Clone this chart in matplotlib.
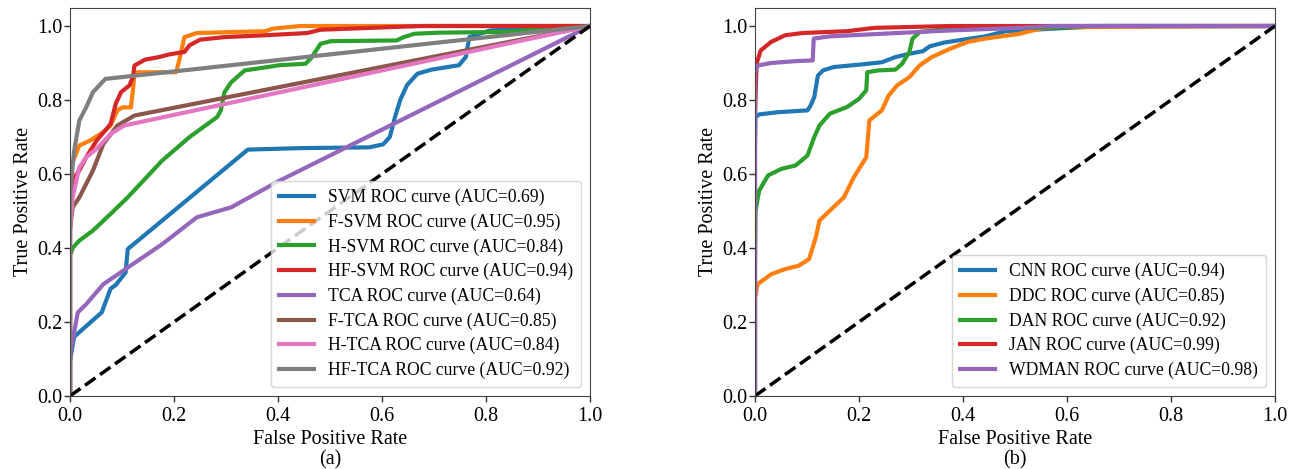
import matplotlib
matplotlib.use("Agg")
import matplotlib.pyplot as plt

plt.rcParams['font.family'] = ['Liberation Serif', 'DejaVu Serif']
plt.rcParams['font.size'] = 13

# ---- Panel (a) data ----
svm_fpr = [0, 0.0, 0.008, 0.061, 0.078, 0.088, 0.107, 0.111, 0.342, 0.446, 0.575, 0.602, 0.615, 0.625, 0.635, 0.648, 0.668, 0.695, 0.748, 0.761, 0.768, 0.808, 1.0]
svm_tpr = [0, 0.095, 0.16, 0.226, 0.29, 0.30, 0.334, 0.397, 0.666, 0.67, 0.672, 0.68, 0.70, 0.754, 0.80, 0.84, 0.871, 0.882, 0.894, 0.916, 0.97, 0.988, 1.0]

fsvm_fpr = [0, 0.0, 0.001, 0.018, 0.038, 0.064, 0.078, 0.091, 0.101, 0.117, 0.121, 0.124, 0.204, 0.21, 0.22, 0.244, 0.376, 0.39, 0.443, 1.0]
fsvm_tpr = [0, 0.45, 0.618, 0.677, 0.69, 0.713, 0.731, 0.772, 0.78, 0.78, 0.826, 0.875, 0.875, 0.907, 0.97, 0.981, 0.986, 0.993, 1.0, 1.0]

hsvm_fpr = [0, 0.0, 0.005, 0.018, 0.044, 0.078, 0.111, 0.177, 0.23, 0.283, 0.29, 0.297, 0.31, 0.336, 0.356, 0.403, 0.453, 0.463, 0.482, 0.502, 0.628, 0.642, 0.662, 0.708, 0.84, 1.0]
hsvm_tpr = [0, 0.38, 0.40, 0.42, 0.447, 0.492, 0.537, 0.636, 0.70, 0.754, 0.772, 0.821, 0.848, 0.88, 0.884, 0.894, 0.898, 0.912, 0.952, 0.959, 0.961, 0.97, 0.979, 0.982, 0.984, 1.0]

hfsvm_fpr = [0, 0.0, 0.008, 0.018, 0.031, 0.051, 0.078, 0.088, 0.098, 0.114, 0.121, 0.124, 0.144, 0.171, 0.19, 0.22, 0.23, 0.25, 0.297, 0.376, 0.456, 0.482, 0.675, 1.0]
hfsvm_tpr = [0, 0.55, 0.59, 0.61, 0.645, 0.69, 0.735, 0.79, 0.821, 0.839, 0.862, 0.893, 0.909, 0.916, 0.923, 0.93, 0.948, 0.963, 0.97, 0.975, 0.981, 0.99, 1.0, 1.0]

tca_fpr = [0, 0.0, 0.001, 0.015, 0.031, 0.064, 0.111, 0.177, 0.244, 0.31, 0.403, 1.0]
tca_tpr = [0, 0.09, 0.12, 0.226, 0.248, 0.302, 0.347, 0.41, 0.483, 0.51, 0.582, 1.0]

ftca_fpr = [0, 0.0, 0.005, 0.018, 0.044, 0.064, 0.091, 0.124, 1.0]
ftca_tpr = [0, 0.45, 0.51, 0.537, 0.609, 0.681, 0.731, 0.758, 1.0]

htca_fpr = [0, 0.0, 0.005, 0.018, 0.031, 0.051, 0.078, 0.104, 1.0]
htca_tpr = [0, 0.45, 0.537, 0.618, 0.645, 0.668, 0.708, 0.731, 1.0]

hftca_fpr = [0, 0.0, 0.001, 0.008, 0.018, 0.031, 0.044, 0.068, 1.0]
hftca_tpr = [0, 0.50, 0.564, 0.663, 0.745, 0.78, 0.821, 0.857, 1.0]

labels_a = ["SVM ROC curve (AUC=0.69)", "F-SVM ROC curve (AUC=0.95)",
            "H-SVM ROC curve (AUC=0.84)", "HF-SVM ROC curve (AUC=0.94)",
            "TCA ROC curve (AUC=0.64)", "F-TCA ROC curve (AUC=0.85)",
            "H-TCA ROC curve (AUC=0.84)", "HF-TCA ROC curve (AUC=0.92)"]

# ---- Panel (b) data ----
cnn_fpr = [0, 0.0, 0.001, 0.008, 0.044, 0.101, 0.107, 0.114, 0.121, 0.131, 0.151, 0.204, 0.244, 0.27, 0.297, 0.323, 0.336, 0.363, 0.39, 0.443, 0.482, 0.575, 0.675, 1.0]
cnn_tpr = [0, 0.672, 0.754, 0.761, 0.767, 0.772, 0.785, 0.808, 0.866, 0.88, 0.889, 0.896, 0.902, 0.916, 0.925, 0.932, 0.945, 0.955, 0.961, 0.972, 0.986, 0.993, 1.0, 1.0]

ddc_fpr = [0, 0.0, 0.005, 0.031, 0.058, 0.084, 0.104, 0.117, 0.124, 0.144, 0.171, 0.19, 0.214, 0.22, 0.244, 0.257, 0.273, 0.297, 0.317, 0.34, 0.376, 0.409, 0.443, 0.509, 0.549, 0.575, 1.0]
ddc_tpr = [0, 0.266, 0.302, 0.329, 0.343, 0.352, 0.37, 0.429, 0.474, 0.501, 0.537, 0.591, 0.645, 0.745, 0.772, 0.812, 0.839, 0.862, 0.894, 0.916, 0.939, 0.957, 0.966, 0.979, 0.993, 0.997, 1.0]

dan_fpr = [0, 0.0, 0.001, 0.008, 0.025, 0.051, 0.078, 0.101, 0.114, 0.124, 0.144, 0.177, 0.20, 0.214, 0.216, 0.237, 0.27, 0.283, 0.297, 0.303, 0.317, 0.376, 0.542, 0.642, 1.0]
dan_tpr = [0, 0.361, 0.50, 0.555, 0.596, 0.614, 0.623, 0.65, 0.70, 0.731, 0.763, 0.781, 0.803, 0.826, 0.875, 0.88, 0.882, 0.898, 0.93, 0.966, 0.984, 0.993, 0.995, 1.0, 1.0]

jan_fpr = [0, 0.0, 0.003, 0.011, 0.031, 0.058, 0.091, 0.177, 0.23, 0.376, 1.0]
jan_tpr = [0, 0.754, 0.898, 0.934, 0.957, 0.975, 0.981, 0.986, 0.995, 1.0, 1.0]

wdman_fpr = [0, 0.0, 0.005, 0.031, 0.078, 0.111, 0.113, 0.144, 0.244, 0.376, 0.509, 0.575, 1.0]
wdman_tpr = [0, 0.875, 0.893, 0.9, 0.905, 0.907, 0.966, 0.972, 0.979, 0.988, 0.995, 1.0, 1.0]

labels_b = ["CNN ROC curve (AUC=0.94)", "DDC ROC curve (AUC=0.85)",
            "DAN ROC curve (AUC=0.92)", "JAN ROC curve (AUC=0.99)",
            "WDMAN ROC curve (AUC=0.98)"]

colors = ['#1f77b4', '#ff7f0e', '#2ca02c', '#d62728', '#9467bd',
          '#8c564b', '#e377c2', '#7f7f7f']

fig = plt.figure(figsize=(12.99, 4.69), dpi=100)
ax1 = fig.add_axes([0.0539, 0.1557, 0.4003, 0.8283])
ax2 = fig.add_axes([0.5812, 0.1557, 0.4003, 0.8283])

series_a = [(svm_fpr, svm_tpr), (fsvm_fpr, fsvm_tpr), (hsvm_fpr, hsvm_tpr),
            (hfsvm_fpr, hfsvm_tpr), (tca_fpr, tca_tpr), (ftca_fpr, ftca_tpr),
            (htca_fpr, htca_tpr), (hftca_fpr, hftca_tpr)]
series_b = [(cnn_fpr, cnn_tpr), (ddc_fpr, ddc_tpr), (dan_fpr, dan_tpr),
            (jan_fpr, jan_tpr), (wdman_fpr, wdman_tpr)]

for ax, series, labels, sub in [(ax1, series_a, labels_a, '(a)'),
                                (ax2, series_b, labels_b, '(b)')]:
    for (x, y), lab, c in zip(series, labels, colors):
        ax.plot(x, y, color=c, lw=3, label=lab)
    ax.plot([0, 1], [0, 1], color='black', lw=2.5, ls='--')
    ax.set_xlim(0, 1.0)
    ax.set_ylim(0, 1.05)
    ax.set_xticks([0, 0.2, 0.4, 0.6, 0.8, 1.0])
    ax.set_yticks([0, 0.2, 0.4, 0.6, 0.8, 1.0])
    ax.tick_params(labelsize=14.5, length=4, width=1, colors='#333333', labelcolor='black', pad=1.5)
    ax.tick_params(axis='x', pad=4)
    for s in ax.spines.values():
        s.set_color('#444444')
    ax.set_xlabel('False Positive Rate\n' + sub, fontsize=14.5, linespacing=1.1, labelpad=3)
    ax.set_ylabel('True Positive Rate', fontsize=14.5, labelpad=3)
    ax.legend(loc='lower right', fontsize=12.7, labelspacing=0.42, borderpad=0.45,
              handlelength=2.0, handletextpad=0.8, framealpha=0.8)

fig.savefig('out.png', dpi=100)
